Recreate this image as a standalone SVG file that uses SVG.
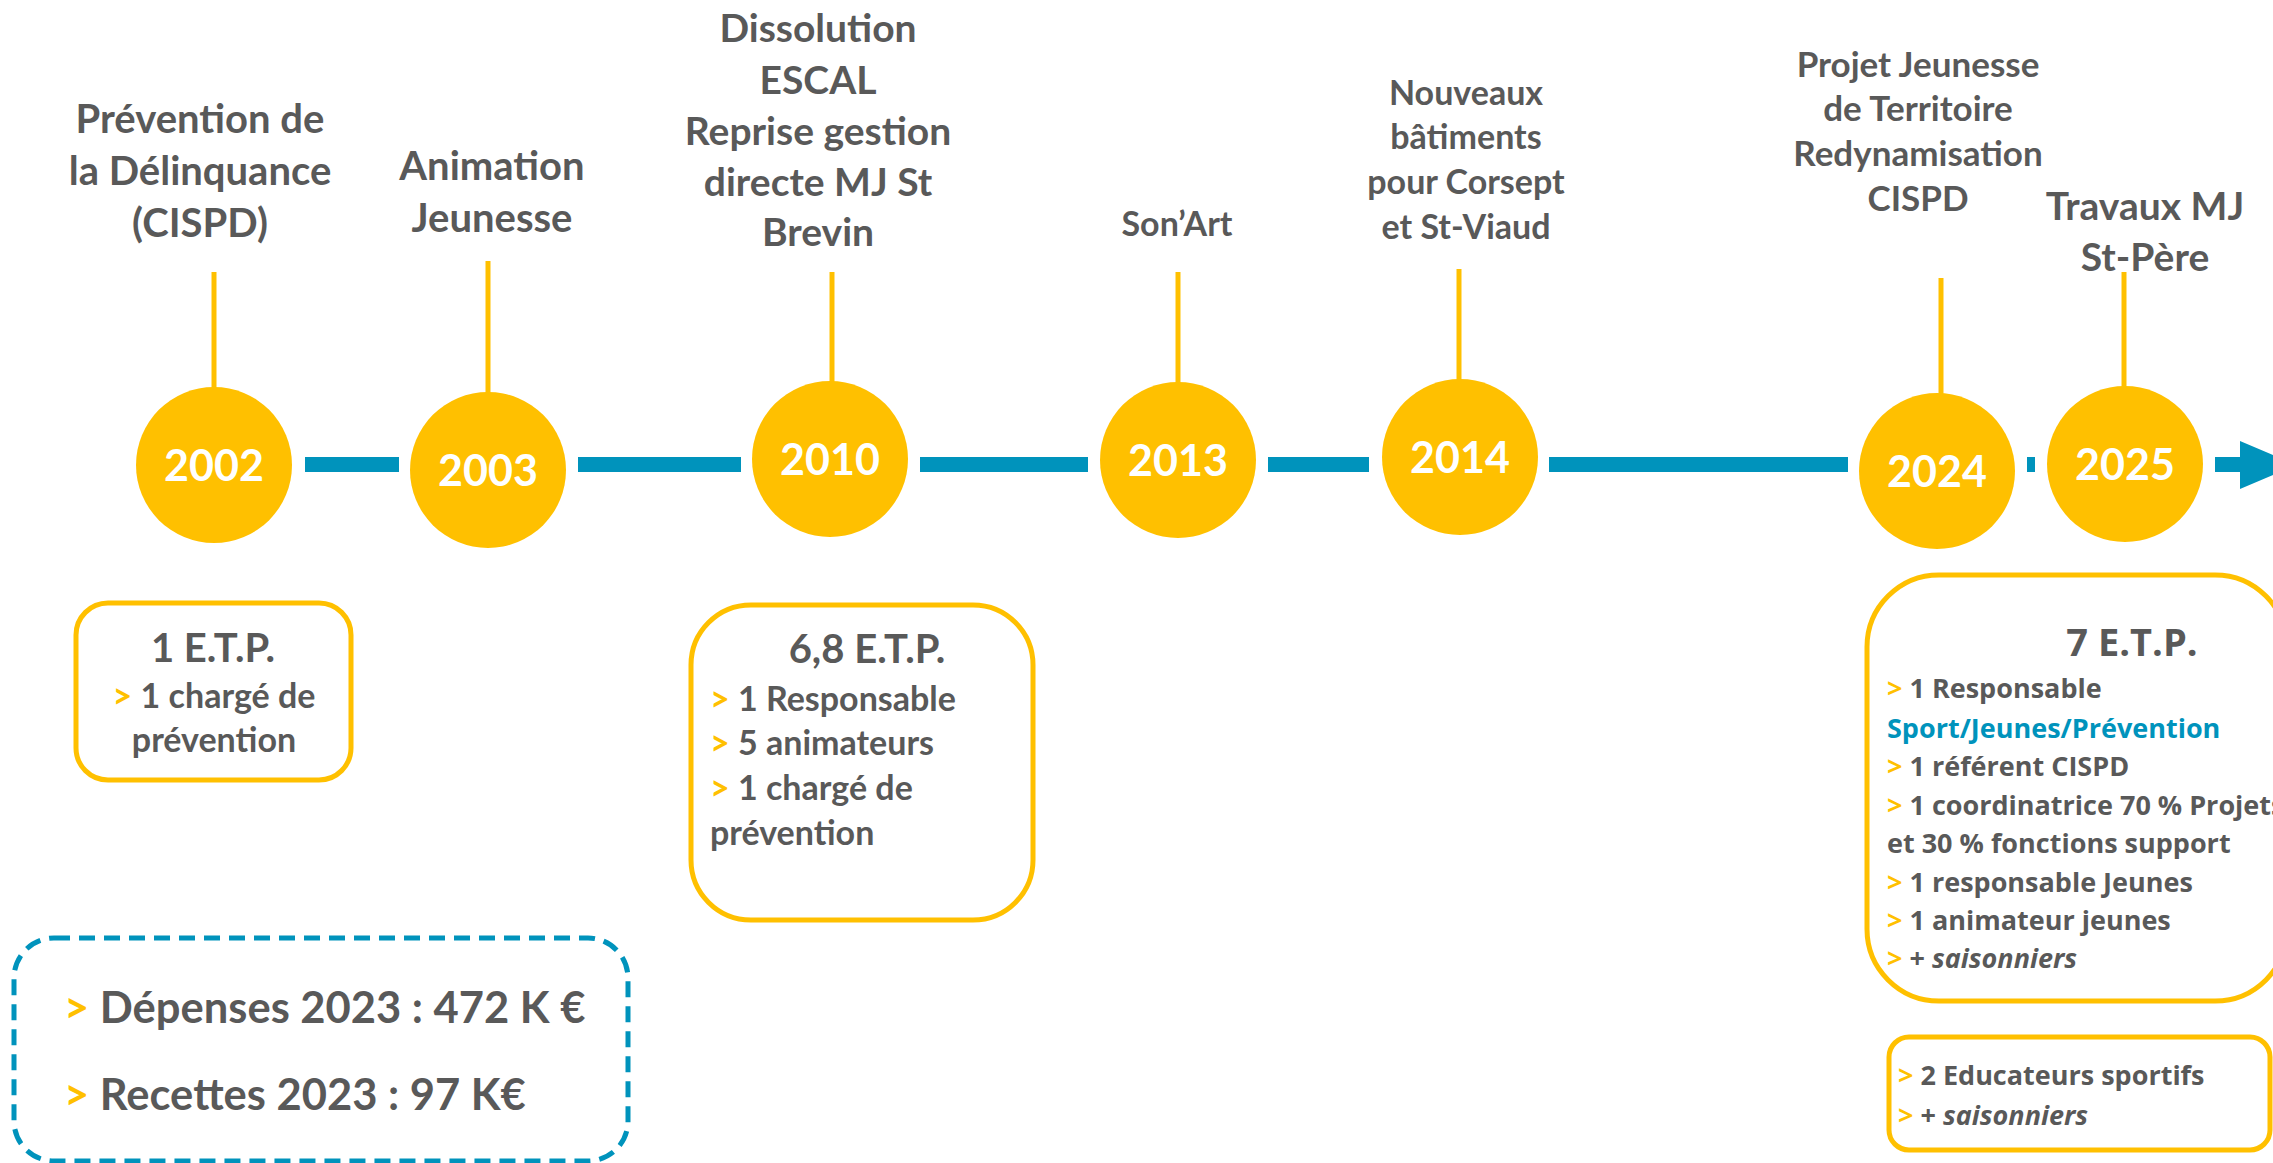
<svg xmlns="http://www.w3.org/2000/svg" width="2273" height="1163" viewBox="0 0 2273 1163">
<style>
.lbl{font-family:Lato,"Liberation Sans",sans-serif;font-weight:700;fill:#595959;text-anchor:middle}
.yr{font-family:Lato,"Liberation Sans",sans-serif;font-weight:700;fill:#ffffff;text-anchor:middle;font-size:43px}
.dot{fill:#FFC000}
.stem{stroke:#FFC000;stroke-width:5;fill:none}
.bar{fill:#0093BC}
.box{fill:#ffffff;stroke:#FFC000;stroke-width:5}
.bt{font-family:Lato,"Liberation Sans",sans-serif;font-weight:700;fill:#595959}
.os{font-family:"Open Sans","Liberation Sans",sans-serif;font-weight:700;fill:#595959}
.y{fill:#FFC000}
.b{fill:#0093BC}
.it{font-style:italic}
</style>
<g id="connectors">
<rect class="bar" x="305" y="457" width="94" height="15"/>
<rect class="bar" x="578" y="457" width="163" height="15"/>
<rect class="bar" x="920" y="457" width="168" height="15"/>
<rect class="bar" x="1268" y="457" width="101" height="15"/>
<rect class="bar" x="1549" y="457" width="299" height="15"/>
<rect class="bar" x="2027" y="457" width="8" height="15"/>
<path class="bar" d="M2215 457 H2240 V441 L2297 465 L2240 489 V472 H2215 Z"/>
<line class="stem" x1="214" y1="272" x2="214" y2="390"/>
<line class="stem" x1="488" y1="261" x2="488" y2="395"/>
<line class="stem" x1="832" y1="272" x2="832" y2="384"/>
<line class="stem" x1="1178" y1="272" x2="1178" y2="385"/>
<line class="stem" x1="1459" y1="269" x2="1459" y2="382"/>
<line class="stem" x1="1941" y1="278" x2="1941" y2="396"/>
<line class="stem" x1="2124" y1="272" x2="2124" y2="390"/>
</g>
<g id="n2002">
<circle class="dot" cx="214" cy="465" r="78"/>
<text class="yr" x="214" y="481">2002</text>
<text class="lbl" font-size="40" x="200" y="133">Prévention de</text>
<text class="lbl" font-size="40" x="200" y="185">la Délinquance</text>
<text class="lbl" font-size="40" x="200" y="237">(CISPD)</text>
</g>
<g id="n2003">
<circle class="dot" cx="488" cy="470" r="78"/>
<text class="yr" x="488" y="486">2003</text>
<text class="lbl" font-size="40" x="492" y="180">Animation</text>
<text class="lbl" font-size="40" x="492" y="232">Jeunesse</text>
</g>
<g id="n2010">
<circle class="dot" cx="830" cy="459" r="78"/>
<text class="yr" x="830" y="475">2010</text>
<text class="lbl" font-size="39" x="818" y="42">Dissolution</text>
<text class="lbl" font-size="39" x="818" y="94">ESCAL</text>
<text class="lbl" font-size="39" x="818" y="145">Reprise gestion</text>
<text class="lbl" font-size="39" x="818" y="196">directe MJ St</text>
<text class="lbl" font-size="39" x="818" y="246">Brevin</text>
</g>
<g id="n2013">
<circle class="dot" cx="1178" cy="460" r="78"/>
<text class="yr" x="1178" y="476">2013</text>
<text class="lbl" font-size="34" x="1177" y="236">Son’Art</text>
</g>
<g id="n2014">
<circle class="dot" cx="1460" cy="457" r="78"/>
<text class="yr" x="1460" y="473">2014</text>
<text class="lbl" font-size="34" x="1466" y="105">Nouveaux</text>
<text class="lbl" font-size="34" x="1466" y="149">bâtiments</text>
<text class="lbl" font-size="34" x="1466" y="194">pour Corsept</text>
<text class="lbl" font-size="34" x="1466" y="239">et St-Viaud</text>
</g>
<g id="n2024">
<circle class="dot" cx="1937" cy="471" r="78"/>
<text class="yr" x="1937" y="487">2024</text>
<text class="lbl" font-size="35" x="1918" y="77">Projet Jeunesse</text>
<text class="lbl" font-size="35" x="1918" y="121">de Territoire</text>
<text class="lbl" font-size="35" x="1918" y="166">Redynamisation</text>
<text class="lbl" font-size="35" x="1918" y="211">CISPD</text>
</g>
<g id="n2025">
<circle class="dot" cx="2125" cy="464" r="78"/>
<text class="yr" x="2125" y="480">2025</text>
<text class="lbl" font-size="39" x="2145" y="220">Travaux MJ</text>
<text class="lbl" font-size="39" x="2145" y="271">St-Père</text>
</g>
<g id="box-2002">
<rect class="box" x="76" y="603" width="275" height="177" rx="32"/>
<text class="bt" font-size="40" text-anchor="middle" x="213" y="662">1 E.T.P.</text>
<text class="bt" font-size="34" text-anchor="middle" x="214" y="708"><tspan class="y">&gt;</tspan> 1 chargé de</text>
<text class="bt" font-size="34" text-anchor="middle" x="214" y="752">prévention</text>
</g>
<g id="box-2010">
<rect class="box" x="691" y="605" width="342" height="315" rx="60"/>
<text class="bt" font-size="40" text-anchor="middle" x="867" y="663">6,8 E.T.P.</text>
<text class="bt" font-size="34" x="710" y="711"><tspan class="y">&gt;</tspan> 1 Responsable</text>
<text class="bt" font-size="34" x="710" y="755"><tspan class="y">&gt;</tspan> 5 animateurs</text>
<text class="bt" font-size="34" x="710" y="800"><tspan class="y">&gt;</tspan> 1 chargé de</text>
<text class="bt" font-size="34" x="710" y="845">prévention</text>
</g>
<g id="budget">
<rect x="14" y="938" width="614" height="223" rx="40" fill="#ffffff" stroke="#0093BC" stroke-width="5" stroke-dasharray="16 9"/>
<text class="bt" font-size="43.5" x="64" y="1023"><tspan class="y">&gt;</tspan> Dépenses 2023 : 472 K €</text>
<text class="bt" font-size="43.5" x="64" y="1110"><tspan class="y">&gt;</tspan> Recettes 2023 : 97 K€</text>
</g>
<g id="box-2024">
<rect class="box" x="1867" y="575" width="420" height="426" rx="72"/>
<text class="os" font-size="38" text-anchor="middle" x="2132" y="656">7 E.T.P.</text>
<text class="os" font-size="27" x="1887" y="698"><tspan class="y">&gt;</tspan> 1 Responsable</text>
<text class="os b" font-size="27" x="1887" y="738">Sport/Jeunes/Prévention</text>
<text class="os" font-size="27" x="1887" y="776"><tspan class="y">&gt;</tspan> 1 référent CISPD</text>
<text class="os" font-size="27" x="1887" y="815"><tspan class="y">&gt;</tspan> 1 coordinatrice 70 % Projets</text>
<text class="os" font-size="27" x="1887" y="853">et 30 % fonctions support</text>
<text class="os" font-size="27" x="1887" y="892"><tspan class="y">&gt;</tspan> 1 responsable Jeunes</text>
<text class="os" font-size="27" x="1887" y="930"><tspan class="y">&gt;</tspan> 1 animateur jeunes</text>
<text class="os" font-size="27" x="1887" y="968"><tspan class="y">&gt;</tspan> + <tspan class="it">saisonniers</tspan></text>
</g>
<g id="box-sport">
<rect class="box" x="1889" y="1037" width="381" height="113" rx="20"/>
<text class="os" font-size="27" x="1898" y="1085"><tspan class="y">&gt;</tspan> 2 Educateurs sportifs</text>
<text class="os" font-size="27" x="1898" y="1125"><tspan class="y">&gt;</tspan> + <tspan class="it">saisonniers</tspan></text>
</g>
</svg>
